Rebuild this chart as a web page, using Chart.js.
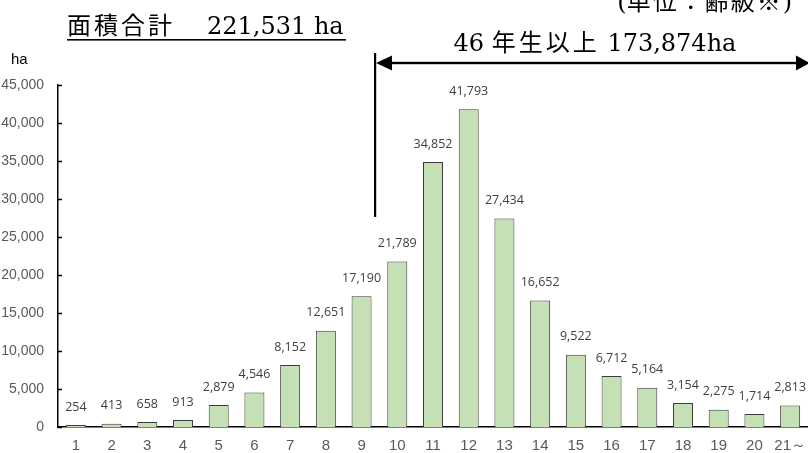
<!DOCTYPE html>
<html>
<head>
<meta charset="utf-8">
<script src="https://cdn.jsdelivr.net/npm/chart.js@4/dist/chart.umd.min.js"></script>
<style>
  html, body { margin: 0; padding: 0; background: #fff; }
  #wrap { width: 808px; height: 453px; position: relative; }
</style>
</head>
<body>
<div id="wrap"><canvas id="c" width="808" height="453"></canvas></div>
<script>
// Age classes (齢級) and area per class in hectares
const ageClasses = ['1','2','3','4','5','6','7','8','9','10','11','12','13','14','15','16','17','18','19','20','21～'];
const areaHa = [254, 413, 658, 913, 2879, 4546, 8152, 12651, 17190, 21789, 34852, 41793, 27434, 16652, 9522, 6712, 5164, 3154, 2275, 1714, 2813];
const yTicks = [0, 5000, 10000, 15000, 20000, 25000, 30000, 35000, 40000, 45000];

const titleLabel = '面積合計';
const titleValue = '221,531 ha';
const unitNote = '(単位：齢級※)';
const olderLabel = '46 年生以上 173,874ha';
const yUnit = 'ha';

const fmt = v => v.toLocaleString('en-US');
const serif = '"DejaVu Serif", "Liberation Serif", "Noto Sans CJK JP", serif';
const sans = '"Liberation Sans", Arial, sans-serif';

// Draw a mixed string: CJK runs get extra tracking so they sit full width
function mixedText(ctx, str, x, y, size, cjkGap) {
  const runs = str.match(/[\u3000-\u9fff\uff00-\uffef\u203b]+|[^\u3000-\u9fff\uff00-\uffef\u203b]+/g);
  let cx = x;
  ctx.font = size + 'px ' + serif;
  ctx.textAlign = 'left';
  runs.forEach(r => {
    const cjk = /[\u3000-\u9fff\uff00-\uffef\u203b]/.test(r);
    ctx.letterSpacing = cjk ? cjkGap + 'px' : '0px';
    ctx.fillText(r, cx, y);
    cx += ctx.measureText(r).width;
  });
  ctx.letterSpacing = '0px';
  return cx - x;
}
function mixedWidth(ctx, str, size, cjkGap) {
  ctx.save();
  ctx.globalAlpha = 0;
  const w = mixedText(ctx, str, 0, -100, size, cjkGap);
  ctx.restore();
  return w;
}

// Inside tick marks on the y axis
const innerTicks = {
  id: 'innerTicks',
  afterDraw(chart) {
    const { ctx, scales: { y } } = chart;
    ctx.save();
    ctx.strokeStyle = '#000';
    ctx.lineWidth = 1.5;
    yTicks.forEach(v => {
      const py = Math.round(y.getPixelForValue(v)) + 0.5;
      ctx.beginPath();
      ctx.moveTo(y.right, py);
      ctx.lineTo(y.right + 4, py);
      ctx.stroke();
    });
    ctx.restore();
  }
};

// Value labels above each bar
const barValues = {
  id: 'barValues',
  afterDatasetsDraw(chart) {
    const { ctx } = chart;
    const meta = chart.getDatasetMeta(0);
    ctx.save();
    ctx.font = '12.5px "Open Sans", "Noto Sans", sans-serif';
    ctx.fillStyle = '#404040';
    ctx.textAlign = 'center';
    ctx.textBaseline = 'middle';
    meta.data.forEach((bar, i) => {
      ctx.fillText(fmt(areaHa[i]), bar.x, bar.y - 18);
    });
    ctx.restore();
  }
};

// Heading texts, unit label and the bracket arrow over the older classes
const headings = {
  id: 'headings',
  afterDraw(chart) {
    const { ctx } = chart;
    ctx.save();
    ctx.fillStyle = '#000';
    ctx.textBaseline = 'middle';

    // total area heading, underlined
    mixedText(ctx, titleLabel, 67, 28, 24, 3);
    mixedText(ctx, titleValue, 207, 28, 24, 0);
    ctx.fillRect(67, 39, 279, 1.6);

    // unit note (top right)
    const wu = mixedWidth(ctx, unitNote, 24, 2);
    mixedText(ctx, unitNote, 792 - wu, 4, 24, 2);

    // span label
    const ws = mixedWidth(ctx, olderLabel, 24, 3);
    mixedText(ctx, olderLabel, 595 - ws / 2, 45, 24, 3);

    // y unit
    ctx.font = '15px ' + sans;
    ctx.textAlign = 'left';
    ctx.fillText(yUnit, 11, 60);

    // vertical marker line
    ctx.fillRect(374, 53, 2.2, 164);

    // horizontal double arrow
    const ay = 63;
    ctx.fillRect(380, ay - 1.2, 420, 2.4);
    ctx.beginPath();
    ctx.moveTo(376, ay);
    ctx.lineTo(392, ay - 7.5);
    ctx.lineTo(392, ay + 7.5);
    ctx.closePath();
    ctx.fill();
    ctx.beginPath();
    ctx.moveTo(810, ay);
    ctx.lineTo(796, ay - 7.5);
    ctx.lineTo(796, ay + 7.5);
    ctx.closePath();
    ctx.fill();
    ctx.restore();
  }
};

new Chart(document.getElementById('c'), {
  type: 'bar',
  data: {
    labels: ageClasses,
    datasets: [{
      data: areaHa,
      backgroundColor: '#c5e0b4',
      borderColor: '#3c3c3c',
      borderWidth: 1,
      categoryPercentage: 1,
      barPercentage: 0.56
    }]
  },
  options: {
    responsive: false,
    devicePixelRatio: 1,
    animation: false,
    layout: { padding: { top: 85, left: 0, right: 0, bottom: 0 } },
    plugins: { legend: { display: false }, tooltip: { enabled: false } },
    scales: {
      x: {
        grid: { display: false, drawTicks: false },
        border: { display: true, color: '#000', width: 1.5 },
        ticks: {
          color: '#595959',
          font: { family: sans, size: 15 },
          padding: 10,
          maxRotation: 0,
          autoSkip: false
        },
        afterFit(s) { s.height = 26; s.paddingLeft = 0; s.paddingRight = 0; }
      },
      y: {
        min: 0,
        max: 45000,
        grid: { display: false, drawTicks: false },
        border: { display: true, color: '#000', width: 1.5 },
        afterBuildTicks(s) { s.ticks = yTicks.map(v => ({ value: v })); },
        ticks: {
          color: '#595959',
          font: { family: sans, size: 14 },
          padding: 14,
          callback: v => fmt(v)
        },
        afterFit(s) { s.width = 58; }
      }
    }
  },
  plugins: [innerTicks, barValues, headings]
});
</script>
</body>
</html>
